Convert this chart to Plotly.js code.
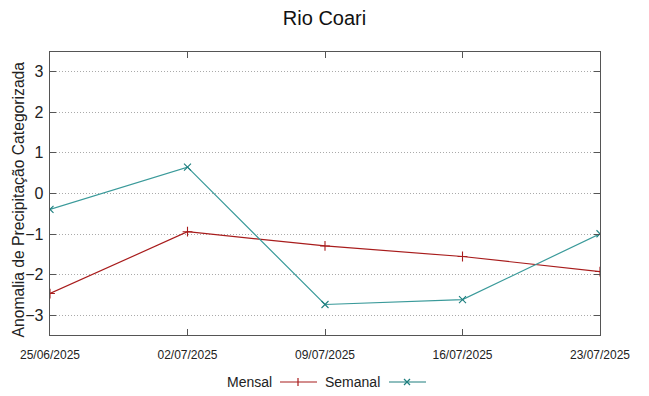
<!DOCTYPE html>
<html>
<head>
<meta charset="utf-8">
<script src="https://cdn.plot.ly/plotly-3.0.1.min.js"></script>
<style>html,body{margin:0;padding:0;background:#fff;}#chart{width:649px;height:396px;}</style>
</head>
<body>
<div id="chart"></div>
<script>
const dates = ["2025-06-25", "2025-07-02", "2025-07-09", "2025-07-16", "2025-07-23"];
const tickLabels = ["25/06/2025", "02/07/2025", "09/07/2025", "16/07/2025", "23/07/2025"];
const mensal = [-2.46, -0.94, -1.29, -1.55, -1.92];
const semanal = [-0.39, 0.65, -2.73, -2.61, -0.99];
const yTicks = [-3, -2, -1, 0, 1, 2, 3];

const red = "#a81c1c";
const teal = "#3a9a9a";
const tealDark = "#1f7f7f";

const traces = [
  {x: dates, y: mensal, name: "Mensal", mode: "lines+markers", type: "scatter",
   line: {color: red, width: 1.2},
   marker: {symbol: "cross-thin-open", size: 7, color: red, line: {color: red, width: 1.1}}},
  {x: dates, y: semanal, name: "Semanal", mode: "lines+markers", type: "scatter",
   line: {color: teal, width: 1.2},
   marker: {symbol: "x-thin-open", size: 7, color: tealDark, line: {color: tealDark, width: 1.1}}}
];

// plot area in pixels
const L = 50, R = 49, T = 52, B = 61, W = 649, H = 396;
const pw = W - L - R, ph = H - T - B;
function px(x){return (x - L) / pw;}
function py(y){return (H - B - y) / ph;}

const FONT = "Liberation Sans, Arial, sans-serif";

// legend (gnuplot style: text then sample)
const legY = 382;
const shapes = [
  {type: "line", xref: "paper", yref: "paper", x0: px(280), x1: px(317), y0: py(legY), y1: py(legY), line: {color: red, width: 1.2}},
  {type: "line", xref: "paper", yref: "paper", x0: px(298), x1: px(298), y0: py(legY - 4), y1: py(legY + 4), line: {color: red, width: 1.2}},
  {type: "line", xref: "paper", yref: "paper", x0: px(389), x1: px(426), y0: py(legY), y1: py(legY), line: {color: tealDark, width: 1.2}},
  {type: "line", xref: "paper", yref: "paper", x0: px(404), x1: px(410), y0: py(legY - 3), y1: py(legY + 3), line: {color: tealDark, width: 1.2}},
  {type: "line", xref: "paper", yref: "paper", x0: px(404), x1: px(410), y0: py(legY + 3), y1: py(legY - 3), line: {color: tealDark, width: 1.2}}
];
const annotations = [
  {text: "Mensal", xref: "paper", yref: "paper", x: px(274), y: py(legY), xanchor: "right", yanchor: "middle", showarrow: false, font: {family: FONT, size: 14, color: "#222"}},
  {text: "Semanal", xref: "paper", yref: "paper", x: px(382), y: py(legY), xanchor: "right", yanchor: "middle", showarrow: false, font: {family: FONT, size: 14, color: "#222"}},
  {text: "Anomalia de Precipitação Categorizada", xref: "paper", yref: "paper", x: px(18.5), y: py(200), xanchor: "center", yanchor: "middle", textangle: -90, showarrow: false, font: {family: FONT, size: 15.7, color: "#222"}}
];

const layout = {
  width: W, height: H,
  margin: {l: L, r: R, t: T, b: B},
  paper_bgcolor: "#fff", plot_bgcolor: "#fff",
  showlegend: false,
  font: {family: FONT, color: "#222"},
  title: {text: "Rio Coari", x: 0.5, xanchor: "center", y: 1 - 18 / H, yanchor: "middle", font: {size: 20, color: "#111"}},
  xaxis: {
    type: "date", range: [dates[0], dates[dates.length - 1]],
    tickmode: "array", tickvals: dates, ticktext: tickLabels,
    ticks: "inside", ticklen: 6, tickcolor: "#555",
    tickfont: {size: 12},
    ticklabelstandoff: 8,
    showgrid: false, zeroline: false, showline: true, linecolor: "#555", linewidth: 1.3, mirror: "ticks"
  },
  yaxis: {
    range: [-3.48, 3.48], tickmode: "array", tickvals: yTicks,
    ticks: "inside", ticklen: 6, tickcolor: "#555", tickfont: {size: 16},
    ticklabelstandoff: 2,
    showgrid: true, gridcolor: "#aaa", griddash: "1px,2px", gridwidth: 1,
    zeroline: false, showline: true, linecolor: "#555", linewidth: 1.3, mirror: "ticks"
  },
  shapes: shapes,
  annotations: annotations
};

Plotly.newPlot("chart", traces, layout, {displayModeBar: false, staticPlot: true});
</script>
</body>
</html>
